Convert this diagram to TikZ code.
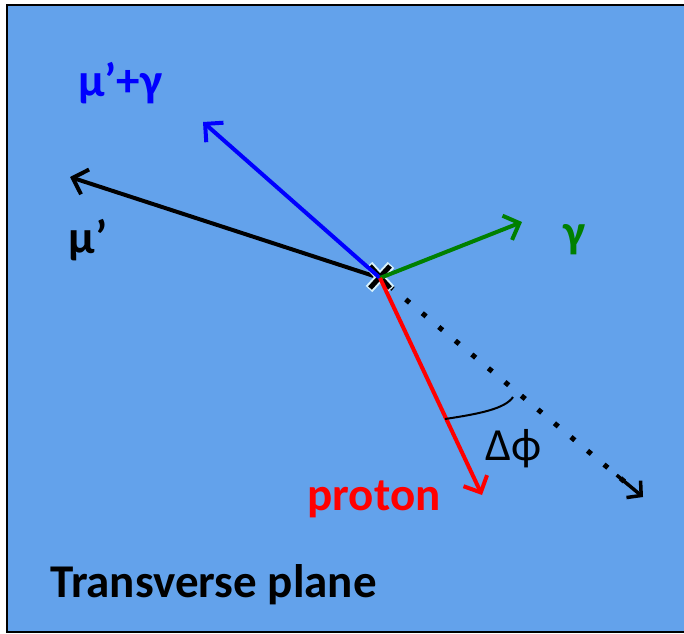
\documentclass[tikz,border=0pt]{standalone}
\usepackage{fontspec}
\setmainfont{Carlito}
\usetikzlibrary{arrows.meta,calc}
\definecolor{bg}{HTML}{63A2EB}
\definecolor{vblue}{HTML}{0000FF}
\definecolor{vgreen}{HTML}{008000}
\definecolor{vred}{HTML}{FF0000}
\tikzset{
  vec/.style={line width=4pt,-{Straight Barb[length=13pt,width=26pt,line width=4pt]}},
  lbl/.style={font=\fontsize{47}{49}\selectfont\bfseries, inner sep=0pt},
}
\begin{document}
\begin{tikzpicture}[x=1pt,y=-1pt]
\useasboundingbox (0,0) rectangle (684,633);
\fill[bg] (7,5) rectangle (690,632);
\draw[line width=2pt,black] (690,5) -- (7,5) -- (7,632) -- (690,632);
\coordinate (O) at (380,278);
\coordinate (mu) at (70,177);
\coordinate (mug) at (203,122);
\coordinate (g) at (522,222);
\coordinate (p) at (482,495);
\coordinate (d) at (643,497);
\coordinate (a1) at (445,419);
\coordinate (a2) at (513,397);
% dotted reference direction
\draw[line width=5pt,dash pattern=on 5pt off 16.5pt, dash phase=-12pt] (O) -- ($(O)!0.93!(d)$);
\draw[line width=3.5pt,-{Straight Barb[length=10pt,width=22pt,line width=3.5pt]}] ($(O)!0.90!(d)$) -- (d);
\draw[vec,black] (O) -- (mu);
% vertex cross
\draw[line width=9pt,cyan!15!white] (369,265) -- (391,289) (391,265) -- (369,289);
\draw[line width=5pt,black] (370,266) -- (390,288) (390,266) -- (370,288);
\draw[vec,vblue] (O) -- (mug);
\draw[vec,vgreen] (O) -- (g);
\draw[vec,vred] (O) -- (p);
\draw[line width=2pt] (a1) .. controls (478,414) and (505,409) .. (a2);
\node[lbl,vblue] (tmug) at (120,83) {μ’+γ};
\node[lbl,black] (tmu) at (88,240) {μ’};
\node[lbl,vgreen] (tg) at (574,240) {γ};
\node[lbl,vred] (tp) at (374,499) {proton};
\node[inner sep=0pt,font=\fontsize{46}{48}\selectfont] (tdphi) at (514,449) {Δϕ};
\node[lbl,black,anchor=west] (tplane) at (50,585) {Transverse plane};
\end{tikzpicture}
\end{document}
